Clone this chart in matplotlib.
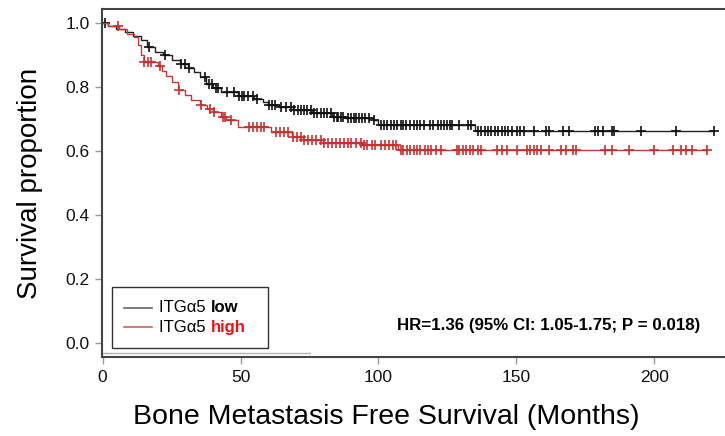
import matplotlib
matplotlib.use('Agg')
import matplotlib.pyplot as plt
import numpy as np
from matplotlib.offsetbox import AnchoredOffsetbox, HPacker, VPacker, TextArea, DrawingArea
from matplotlib.lines import Line2D

plt.rcParams['font.family'] = ['Liberation Sans', 'DejaVu Sans']

# ITGa5 low: event times (months) and survival after each event
low_event_t = [2, 5, 8, 11, 14, 16, 19, 22, 25, 28, 31, 33, 35.5, 37.5, 40, 43,
               49, 55, 58, 60, 64, 69, 76, 83, 88, 98, 100, 135]
low_event_s = [0.99, 0.98, 0.97, 0.96, 0.945, 0.925, 0.91, 0.90, 0.885, 0.872,
               0.858, 0.845, 0.83, 0.81, 0.795, 0.785, 0.772, 0.762, 0.752,
               0.743, 0.737, 0.727, 0.718, 0.706, 0.702, 0.696, 0.681, 0.662]
low_cens_t = [1, 17, 22.5, 28.5, 30, 31.5, 37, 38.5, 39.5, 41, 42, 45, 47.6, 49.5,
              50.5, 51.3, 52.6, 54.4, 56, 60.5, 61.5, 62.5, 64.6, 66.4, 68.2,
              69.5, 70.7, 71.8, 73, 74, 75.4, 76.5, 77.8, 79, 80.4, 81.5, 82.7,
              84, 84.8, 85.5, 86.3, 87.2, 88.8, 89.9, 91, 92, 93, 94.2, 95.3,
              96.4, 98.4, 100.8, 101.9, 103, 104.4, 105.5, 106.6, 108, 109,
              110.1, 111.6, 112.7, 113.8, 115.2, 116.4, 118.5, 119.6, 121.4,
              122.5, 123.6, 124.7, 125.8, 126.5, 129.3, 132.6, 133.7, 136.2,
              137.3, 138.7, 139.8, 140.9, 142.4, 143.4, 144.9, 146, 147.1,
              148.5, 150.3, 151.4, 152.9, 156.5, 160.8, 161.9, 167, 169.2,
              178.5, 179.6, 181.4, 184.7, 185.4, 195.2, 207.8, 221.6]

# ITGa5 high
high_event_t = [2, 6, 9, 11.5, 13, 14, 15, 20, 21.5, 23, 25, 27.5, 30, 32, 35.5,
                38, 40, 43, 44.8, 49, 61, 68.5, 72.5, 80, 94, 107]
high_event_s = [0.99, 0.98, 0.965, 0.955, 0.93, 0.90, 0.877, 0.865, 0.85, 0.835,
                0.815, 0.79, 0.775, 0.76, 0.743, 0.73, 0.72, 0.705, 0.696,
                0.675, 0.66, 0.643, 0.634, 0.624, 0.618, 0.603]
high_cens_t = [5.6, 15.2, 16.5, 17.5, 21, 27.7, 35.6, 39, 40.5, 43.6, 44.2,
               46.5, 53, 54.4, 55.9, 57.3, 58.4, 62.8, 64.2, 65.7, 67.1, 69,
               70.4, 71.8, 72.9, 74.4, 75.8, 77.2, 79, 80.1, 81.6, 83, 84.5,
               86, 87.4, 88.8, 89.9, 91.7, 93.5, 94.6, 96, 97.5, 98.9, 100.8,
               102.2, 103.7, 105.1, 106.2, 108, 109, 110.5, 111.6, 112.7,
               114.1, 115.2, 117, 118.1, 119.2, 120.7, 122.8, 128.3, 129.3,
               130.8, 131.9, 133, 134.4, 136.2, 137.3, 143.1, 144.9, 146.7,
               150.3, 153.9, 155, 156.5, 157.6, 159, 161.9, 166.3, 168.1,
               170.6, 171.7, 182.2, 184.7, 190.8, 199.9, 206.8, 209.7, 211.5,
               213.7, 219.1]

x_ticks = [0, 50, 100, 150, 200]
y_ticks = [0.0, 0.2, 0.4, 0.6, 0.8, 1.0]


def km_curve(ev_t, ev_s, cens_t):
    t = np.r_[0.0, ev_t, max(cens_t)]
    s = np.r_[1.0, ev_s, ev_s[-1]]
    idx = np.searchsorted(ev_t, cens_t, side='right')
    cs = np.r_[1.0, ev_s][idx]
    return t, s, np.array(cens_t), cs


fig = plt.figure(figsize=(7.25, 4.36), dpi=100)
ax = fig.add_axes([102 / 725, 79 / 436, 623 / 725, 348 / 436])

series = [(low_event_t, low_event_s, low_cens_t, '#222222', '#111111'),
          (high_event_t, high_event_s, high_cens_t, '#c43a3a', '#c8302f')]
for ev_t, ev_s, c_t, lc, mc in series:
    t, s, ct, cs = km_curve(ev_t, ev_s, c_t)
    ax.step(t, s, where='post', color=lc, lw=1.0)
    ax.plot(ct, cs, ls='none', marker='+', ms=7.5, mew=1.2, color=mc)

ax.set_xlim(-0.2, 225.6)
ax.set_ylim(-0.0437, 1.043)
ax.set_xticks(x_ticks)
ax.set_yticks(y_ticks)
ax.set_yticklabels([f'{v:.1f}' for v in y_ticks])
ax.tick_params(length=5, width=1, color='#999999', labelsize=12.5,
               labelcolor='#111111', pad=4)
for sp in ['top', 'left', 'bottom']:
    ax.spines[sp].set_color('#444444')
    ax.spines[sp].set_linewidth(1.5)
ax.spines['right'].set_visible(False)

# faint line left over under the legend
ax.plot([0, 0.334], [0.0115, 0.0115], transform=ax.transAxes,
        color='#b0b0b0', lw=1, clip_on=False)

ax.set_ylabel('Survival proportion', fontsize=20, labelpad=16)
ax.set_xlabel('Bone Metastasis Free Survival (Months)', fontsize=20.5)
ax.xaxis.set_label_coords((386 - 102) / 623, -0.135)

ax.text(216.5, 0.056, 'HR=1.36 (95% CI: 1.05-1.75; P = 0.018)',
        ha='right', va='center', fontsize=12.2, fontweight='bold')

# legend with mixed styling
rows = []
for word, wcol, lcol in [('low', '#000000', '#666666'),
                         ('high', '#ee1111', '#d06060')]:
    da = DrawingArea(20, 12, 0, 0)
    da.add_artist(Line2D([0, 20], [6, 6], color=lcol, lw=1.2))
    gap = DrawingArea(5, 12, 0, 0)
    t1 = TextArea('ITGα5 ', textprops=dict(fontsize=12, color='#000000'))
    t2 = TextArea(word, textprops=dict(fontsize=12, color=wcol,
                                       fontweight='bold'))
    spacer = DrawingArea(7, 12, 0, 0)
    rows.append(HPacker(children=[da, gap, t1, t2, spacer], align='center',
                        pad=0, sep=0))
box = VPacker(children=rows, align='left', pad=0, sep=2)
anch = AnchoredOffsetbox(loc='lower left', child=box, pad=0.75,
                         borderpad=0, frameon=True,
                         bbox_to_anchor=(0.016, 0.026),
                         bbox_transform=ax.transAxes,
                         prop=dict(size=12))
anch.patch.set_edgecolor('#333333')
anch.patch.set_linewidth(1.0)
anch.patch.set_boxstyle('square', pad=0)
ax.add_artist(anch)

fig.savefig('out.png', dpi=100)
